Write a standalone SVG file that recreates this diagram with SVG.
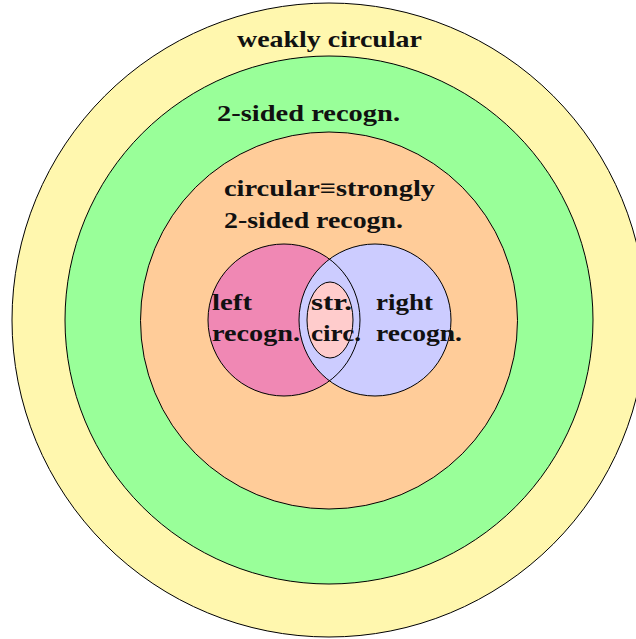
<svg xmlns="http://www.w3.org/2000/svg" width="636" height="639" viewBox="0 0 636 639">
<style>
.s{stroke:#000;stroke-width:1}
.t{font-family:"Liberation Serif","DejaVu Serif",serif;font-weight:bold;font-size:23px;fill:#111}
</style>
<rect width="636" height="639" fill="#fff"/>
<g id="weakly">
<circle class="s" cx="329" cy="320" r="317" fill="#FFF7AE"/>
<text class="t" x="237" y="47" textLength="185" lengthAdjust="spacingAndGlyphs">weakly circular</text>
</g>
<g id="twosided">
<circle class="s" cx="329" cy="320" r="264" fill="#99FF99"/>
<text class="t" x="217" y="121" textLength="183" lengthAdjust="spacingAndGlyphs">2-sided recogn.</text>
</g>
<g id="circular">
<circle class="s" cx="329" cy="320.5" r="188.5" fill="#FFCC99"/>
<text class="t" x="224" y="196" textLength="211" lengthAdjust="spacingAndGlyphs">circular≡strongly</text>
<text class="t" x="224" y="228" textLength="179" lengthAdjust="spacingAndGlyphs">2-sided recogn.</text>
</g>
<g id="left">
<circle cx="284" cy="320" r="76" fill="#F088B4"/>
</g>
<g id="right">
<circle class="s" cx="375" cy="320" r="76" fill="#CCCCFF"/>
</g>
<circle class="s" cx="284" cy="320" r="76" fill="none"/>
<g id="strong">
<ellipse class="s" cx="330" cy="320" rx="23" ry="38" fill="#FFCCCC"/>
</g>
<g id="labels">
<text class="t" x="212" y="310" textLength="40" lengthAdjust="spacingAndGlyphs">left</text>
<text class="t" x="212" y="341" textLength="88" lengthAdjust="spacingAndGlyphs">recogn.</text>
<text class="t" x="311" y="310" textLength="41" lengthAdjust="spacingAndGlyphs">str.</text>
<text class="t" x="311" y="341" textLength="50" lengthAdjust="spacingAndGlyphs">circ.</text>
<text class="t" x="376" y="310" textLength="57" lengthAdjust="spacingAndGlyphs">right</text>
<text class="t" x="376" y="341" textLength="86" lengthAdjust="spacingAndGlyphs">recogn.</text>
</g>
<g id="connectors"></g>
</svg>
